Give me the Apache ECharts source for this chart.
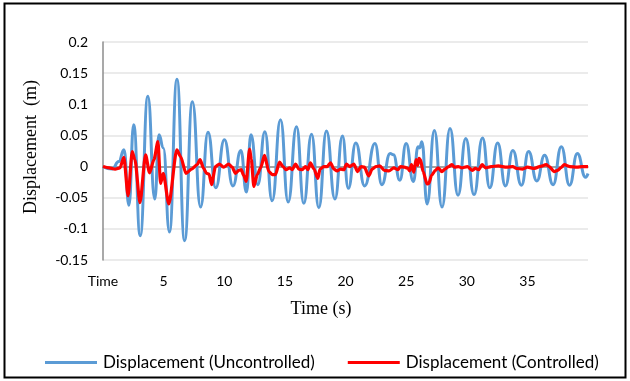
<!DOCTYPE html>
<html>
<head>
<meta charset="utf-8">
<script src="https://cdn.jsdelivr.net/npm/echarts@6/dist/echarts.min.js"></script>
<style>
  html, body { margin: 0; padding: 0; background: #fff; }
  #chart { width: 630px; height: 381px; }
</style>
</head>
<body>
<div id="chart"></div>
<script>
// Time axis ticks (s) and displacement ticks (m)
const timeTicks = [0, 5, 10, 15, 20, 25, 30, 35, 40];
const dispTicks = [-0.15, -0.1, -0.05, 0, 0.05, 0.1, 0.15, 0.2];

// Uncontrolled response: time (s) and displacement (m) at turning points
const uncontrolledTime = [
  0, 0.75, 1.3, 1.73, 2.14, 2.53, 3.07, 3.7, 4.27, 4.62, 4.97, 5.48, 6.1, 6.73,
  7.37, 8.05, 8.66, 9.3, 10.01, 10.72, 11.37, 11.83, 12.2, 12.77, 13.35, 13.95,
  14.64, 15.27, 15.96, 16.56, 17.2, 17.8, 18.43, 19.13, 19.75, 20.23, 20.85,
  21.58, 22.43, 23.0, 23.68, 23.95, 24.48, 25.0, 25.6, 25.98, 26.12, 26.3,
  26.73, 27.33, 27.96, 28.62, 29.28, 29.92, 30.6, 31.3, 31.9, 32.55, 33.19,
  33.8, 34.51, 35.1, 35.78, 36.42, 37.12, 37.8, 38.48, 39.12, 39.8, 40.0
];
const uncontrolledDisp = [
  0, -0.004, 0.008, 0.027, -0.062, 0.067, -0.111, 0.113, -0.052, 0.051, 0.03,
  -0.105, 0.14, -0.119, 0.104, -0.065, 0.055, -0.034, 0.043, -0.031, 0.026,
  -0.041, 0.051, -0.029, 0.056, -0.055, 0.075, -0.057, 0.064, -0.059, 0.052,
  -0.066, 0.057, -0.052, 0.049, -0.035, 0.038, -0.031, 0.037, -0.029, 0.021,
  0.019, -0.022, 0.037, -0.024, 0.032, 0.03, 0.04, -0.06, 0.058, -0.065, 0.061,
  -0.046, 0.045, -0.045, 0.046, -0.034, 0.038, -0.031, 0.026, -0.03, 0.024,
  -0.023, 0.018, -0.029, 0.032, -0.03, 0.021, -0.017, -0.011
];

// Controlled response: time (s) and displacement (m)
const controlledTime = [
  0, 0.5, 1.0, 1.4, 1.72, 2.07, 2.41, 2.63, 3.05, 3.51, 3.84, 4.2, 4.53, 4.75,
  4.97, 5.43, 6.09, 6.4, 6.85, 7.3, 7.77, 8.0, 8.3, 8.54, 8.75, 8.95, 9.28,
  9.6, 9.95, 10.35, 10.65, 10.93, 11.2, 11.4, 11.6, 11.81, 12.09, 12.23, 12.44,
  12.72, 13.0, 13.32, 13.68, 13.95, 14.22, 14.56, 14.84, 15.1, 15.4, 15.6,
  15.88, 16.15, 16.43, 16.7, 16.9, 17.1, 17.4, 17.72, 17.9, 18.2, 18.5, 18.76,
  19.04, 19.3, 19.6, 19.87, 20.08, 20.36, 20.69, 21.0, 21.28, 21.55, 21.92,
  22.2, 22.5, 22.83, 23.2, 23.58, 23.99, 24.32, 24.54, 24.85, 25.15, 25.28,
  25.44, 25.63, 25.82, 25.95, 26.06, 26.18, 26.4, 26.73, 26.87, 27.1, 27.42,
  27.64, 27.95, 28.2, 28.51, 28.78, 29.0, 29.3, 29.57, 30.05, 30.44, 30.72,
  30.98, 31.27, 31.55, 32.0, 32.6, 33.3, 33.8, 34.1, 34.6, 35.0, 35.6, 36.0,
  36.55, 36.8, 37.2, 37.5, 37.75, 38.05, 38.5, 39.1, 39.5, 40.0
];
const controlledDisp = [
  0, -0.002, -0.004, -0.002, 0.015, -0.047, 0.024, 0.011, -0.058, 0.019, -0.01,
  0.011, 0.04, -0.027, -0.011, -0.06, 0.027, 0.016, -0.011, -0.004, 0.003,
  0.011, -0.003, -0.011, -0.012, -0.029, 0.0, 0.004, -0.001, 0.004, -0.001,
  -0.011, -0.006, -0.005, -0.014, -0.024, 0.028, 0.012, -0.032, -0.013, -0.002,
  0.018, -0.008, -0.013, -0.013, 0.007, 0.0, -0.005, -0.002, -0.005, 0.004,
  -0.004, -0.005, 0.0, -0.005, 0.006, -0.004, -0.019, -0.004, 0.0, 0.0, 0.006,
  -0.004, -0.007, -0.004, -0.005, 0.004, 0.0, 0.004, -0.008, 0.0, -0.001,
  -0.015, -0.004, 0.0, 0.001, -0.006, -0.007, -0.002, -0.005, 0.0, -0.001,
  -0.003, -0.007, 0.003, -0.009, 0.011, 0.002, 0.013, 0.011, -0.008, -0.028,
  -0.027, -0.014, -0.006, -0.002, -0.008, -0.004, 0.0, 0.003, -0.001, 0.0,
  -0.002, 0.0, -0.006, -0.003, -0.005, 0.003, -0.002, 0.0, 0.001, -0.001, 0.0,
  -0.003, -0.004, -0.001, -0.003, 0.0, 0.003, 0.0, -0.008, -0.006, -0.002,
  0.003, 0.0, -0.001, 0.0, 0.0
];

const seriesNames = ['Displacement (Uncontrolled)', 'Displacement (Controlled)'];

const zip = (xs, ys) => xs.map((x, i) => [x, ys[i]]);

const labelFont = 'Lato, "Open Sans", sans-serif';
const chart = echarts.init(document.getElementById('chart'), null, { renderer: 'canvas' });

chart.setOption({
  animation: false,
  backgroundColor: '#ffffff',
  grid: { left: 103, right: 42, top: 42, bottom: 121, containLabel: false },
  xAxis: [
    {
      type: 'value',
      min: timeTicks[0],
      max: timeTicks[timeTicks.length - 1],
      interval: 5,
      position: 'bottom',
      axisLine: { show: false, onZero: false },
      axisTick: { show: false },
      splitLine: { show: false },
      axisLabel: {
        margin: 14,
        color: '#000',
        fontFamily: labelFont,
        fontSize: 14,
        formatter: v => (v === 0 ? 'Time' : (v === 40 ? '' : String(v)))
      }
    },
    {
      // zero baseline
      type: 'value',
      min: timeTicks[0],
      max: timeTicks[timeTicks.length - 1],
      position: 'top',
      axisLine: { show: true, onZero: true, lineStyle: { color: '#8c8c8c', width: 1.5 } },
      axisTick: { show: false },
      axisLabel: { show: false },
      splitLine: { show: false }
    }
  ],
  yAxis: {
    type: 'value',
    min: dispTicks[0],
    max: dispTicks[dispTicks.length - 1],
    interval: 0.05,
    axisLine: { show: true, lineStyle: { color: '#8c8c8c', width: 1.5 } },
    axisTick: { show: false },
    splitLine: { show: true, lineStyle: { color: '#e4e4e4', width: 1.5 } },
    axisLabel: {
      margin: 15,
      color: '#000',
      fontFamily: labelFont,
      fontSize: 14,
      formatter: v => String(+v.toFixed(2))
    }
  },
  legend: {
    left: 40,
    top: 349,
    icon: 'rect',
    itemWidth: 52,
    itemHeight: 3,
    itemGap: 33,
    textStyle: { color: '#000', fontFamily: labelFont, fontSize: 17, padding: [0, 0, 0, 1] },
    data: seriesNames
  },
  series: [
    {
      name: seriesNames[0],
      type: 'line',
      xAxisIndex: 0,
      data: zip(uncontrolledTime, uncontrolledDisp),
      symbol: 'none',
      smooth: 0.5,
      smoothMonotone: 'x',
      lineStyle: { color: '#5b9bd5', width: 3 },
      itemStyle: { color: '#5b9bd5' },
      z: 2
    },
    {
      name: seriesNames[1],
      type: 'line',
      xAxisIndex: 0,
      data: zip(controlledTime, controlledDisp),
      symbol: 'none',
      smooth: 0.25,
      smoothMonotone: 'x',
      lineStyle: { color: '#ff0000', width: 3.2 },
      itemStyle: { color: '#ff0000' },
      z: 3
    }
  ],
  graphic: [
    {
      type: 'rect',
      shape: { x: 4.5, y: 3.5, width: 621, height: 374 },
      style: { fill: 'none', stroke: '#000', lineWidth: 2 },
      silent: true
    },
    {
      type: 'text',
      x: 321,
      y: 309,
      style: {
        text: 'Time (s)',
        font: '18px "Liberation Serif", "Times New Roman", serif',
        fill: '#000',
        align: 'center',
        verticalAlign: 'middle'
      }
    },
    {
      type: 'text',
      x: 31,
      y: 147,
      rotation: Math.PI / 2,
      style: {
        text: 'Displacement  (m)',
        font: '18px "Liberation Serif", "Times New Roman", serif',
        fill: '#000',
        align: 'center',
        verticalAlign: 'middle'
      }
    }
  ]
});
</script>
</body>
</html>
